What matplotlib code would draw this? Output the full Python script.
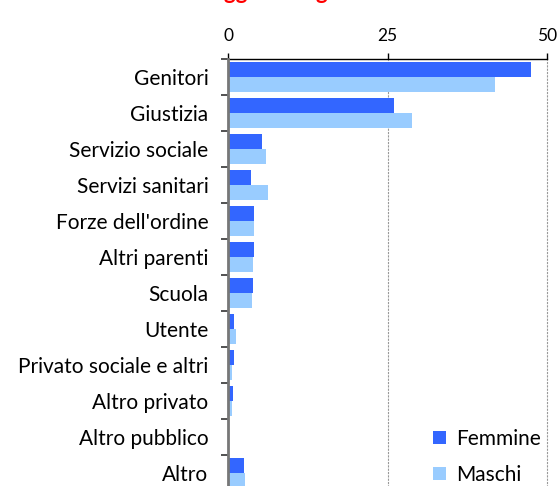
import matplotlib.pyplot as plt
import numpy as np

plt.rcParams['font.family'] = ['Lato', 'DejaVu Sans']

categories = ["Genitori", "Giustizia", "Servizio sociale", "Servizi sanitari",
              "Forze dell'ordine", "Altri parenti", "Scuola", "Utente",
              "Privato sociale e altri", "Altro privato", "Altro pubblico", "Altro"]
femmine = [47.5, 26.0, 5.4, 3.6, 4.1, 4.0, 3.9, 1.0, 1.0, 0.8, 0.1, 2.5]
maschi = [41.8, 28.9, 5.9, 6.2, 4.0, 3.9, 3.8, 1.2, 0.7, 0.6, 0.05, 2.6]
ticks = [0, 25, 50]

fig = plt.figure(figsize=(5.6, 4.86), dpi=100)
ax = fig.add_axes([228 / 560, (486 - 491) / 486, (547 - 228) / 560, (491 - 59) / 486])

y = np.arange(len(categories))
h = 0.41
ax.barh(y - h / 2, femmine, height=h, color="#3366FF", label="Femmine", zorder=3)
ax.barh(y + h / 2, maschi, height=h, color="#99CCFF", label="Maschi", zorder=3)

ax.set_ylim(len(categories) - 0.5, -0.5)
ax.set_xlim(0, 50)
ax.set_yticks(y)
ax.set_yticklabels(categories, fontsize=15)
ax.set_yticks(np.arange(len(categories) + 1) - 0.5, minor=True)
ax.tick_params(axis="y", which="major", length=0, pad=14)
ax.tick_params(axis="y", which="minor", length=5, width=1.2, color="#333333")

ax.xaxis.tick_top()
ax.set_xticks(ticks)
ax.set_xticklabels([str(t) for t in ticks], fontsize=12.5)
ax.tick_params(axis="x", length=4.5, width=1, pad=6, color="black")
ax.xaxis.grid(True, linestyle=(0, (2, 1)), color="#999999", linewidth=0.8, zorder=0)
for gl in ax.get_xgridlines():
    gl.set_clip_on(False)

for s in ["right", "bottom"]:
    ax.spines[s].set_visible(False)
ax.spines["left"].set_color("#777777")
ax.spines["left"].set_linewidth(2)
ax.spines["left"].set_zorder(4)
ax.spines["top"].set_linewidth(1)

leg = ax.legend(loc="lower right", bbox_to_anchor=(1.0, 0.0), frameon=True,
                fontsize=15, handlelength=0.6, handleheight=0.6, handletextpad=0.5,
                borderpad=0.2, labelspacing=0.75, fancybox=False, edgecolor="white",
                borderaxespad=0.1)
leg.get_frame().set_facecolor("white")
leg.set_zorder(5)

fig.text(300 / 560, 1.0 + 1 / 486, "Soggetto segnalante", color="red",
         fontsize=16, fontweight="bold", ha="center", va="baseline")

fig.savefig("out.png", dpi=100)
